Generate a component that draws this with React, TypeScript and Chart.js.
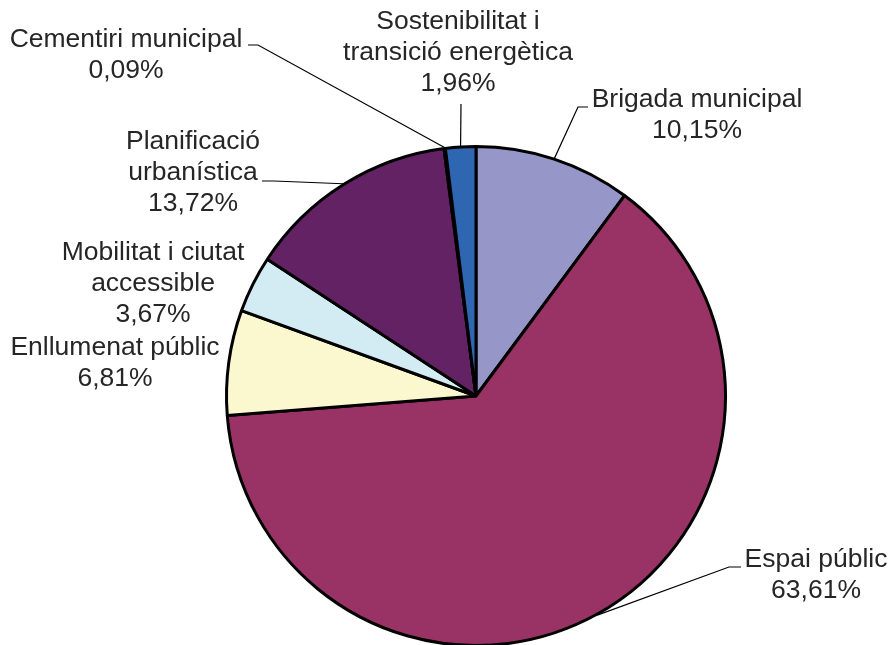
import React, { useEffect, useRef } from "react";
import { Chart, registerables } from "chart.js";

Chart.register(...registerables);

const categories = [
  "Brigada municipal",
  "Espai públic",
  "Enllumenat públic",
  "Mobilitat i ciutat accessible",
  "Planificació urbanística",
  "Cementiri municipal",
  "Sostenibilitat i transició energètica",
];
const values = [10.15, 63.61, 6.81, 3.67, 13.72, 0.09, 1.96];
const labelLines = [
  ["Brigada municipal", "10,15%"],
  ["Espai públic", "63,61%"],
  ["Enllumenat públic", "6,81%"],
  ["Mobilitat i ciutat", "accessible", "3,67%"],
  ["Planificació", "urbanística", "13,72%"],
  ["Cementiri municipal", "0,09%"],
  ["Sostenibilitat i", "transició energètica", "1,96%"],
];
const colors = ["#9696C8", "#993366", "#FBF7CE", "#D3EBF2", "#632263", "#9999FF", "#2E66B2"];

// layout of the labels: text centre x, first line centre y, leader-line start (or null)
const labelLayout: { x: number; y: number; leader: null | { x: number; y: number; dx: number } }[] = [
  { x: 697, y: 100, leader: { x: 588, y: 107, dx: -10 } },
  { x: 816, y: 560, leader: { x: 741, y: 567, dx: -12 } },
  { x: 115, y: 348, leader: null },
  { x: 153, y: 253, leader: null },
  { x: 193, y: 142, leader: { x: 262, y: 181, dx: 12 } },
  { x: 126, y: 40, leader: { x: 248, y: 45, dx: 10 } },
  { x: 458, y: 22, leader: { x: 461, y: 104, dx: 0 } },
];

const FONT = "26.5px 'Liberation Sans', Arial, sans-serif";
const LINE_H = 31;

const labelPlugin = {
  id: "pieLabels",
  afterDraw(chart: any) {
    const ctx = chart.ctx;
    const meta = chart.getDatasetMeta(0);
    ctx.save();
    ctx.font = FONT;
    ctx.fillStyle = "#262626";
    ctx.textAlign = "center";
    ctx.textBaseline = "middle";
    meta.data.forEach((arc: any, i: number) => {
      const lay = labelLayout[i];
      labelLines[i].forEach((t, k) => ctx.fillText(t, lay.x, lay.y + k * LINE_H));
      if (lay.leader) {
        const p = arc.getProps(["x", "y", "startAngle", "endAngle", "outerRadius"], true);
        const mid = (p.startAngle + p.endAngle) / 2;
        const ex = p.x + Math.cos(mid) * (p.outerRadius + 1);
        const ey = p.y + Math.sin(mid) * (p.outerRadius + 1);
        ctx.beginPath();
        ctx.strokeStyle = "#000000";
        ctx.lineWidth = 1.2;
        ctx.moveTo(lay.leader.x, lay.leader.y);
        if (lay.leader.dx !== 0) ctx.lineTo(lay.leader.x + lay.leader.dx, lay.leader.y);
        ctx.lineTo(ex, ey);
        ctx.stroke();
      }
    });
    ctx.restore();
  },
};

export default function App() {
  const ref = useRef<HTMLCanvasElement>(null);
  useEffect(() => {
    if (!ref.current) return;
    const chart = new Chart(ref.current, {
      type: "pie",
      data: {
        labels: categories,
        datasets: [
          {
            data: values,
            backgroundColor: colors,
            borderColor: "#000000",
            borderWidth: 3,
          },
        ],
      },
      options: {
        responsive: false,
        animation: false,
        devicePixelRatio: 1,
        layout: { padding: { left: 225, right: 164, top: 145, bottom: 13 } },
        plugins: { legend: { display: false }, tooltip: { enabled: false } },
      },
      plugins: [labelPlugin],
    });
    return () => chart.destroy();
  }, []);
  return (
    <div style={{ position: "fixed", left: 0, top: 0, width: 891, height: 645, overflow: "hidden", background: "#fff" }}>
      <canvas ref={ref} width={891} height={660} style={{ display: "block" }} />
    </div>
  );
}
